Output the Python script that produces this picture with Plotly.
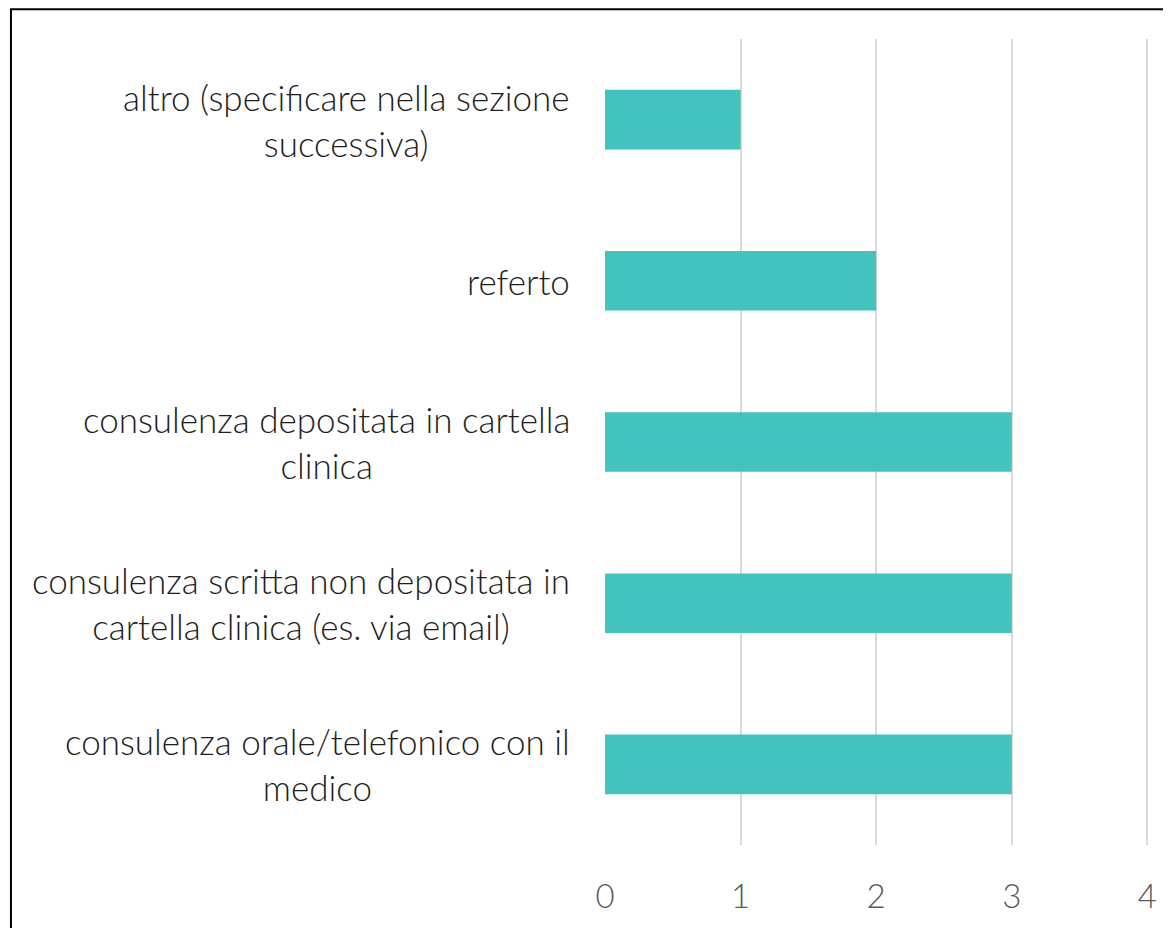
import plotly.graph_objects as go

categories = [
    "consulenza orale/telefonico con il<br>medico",
    "consulenza scritta non depositata in<br>cartella clinica (es. via email)",
    "consulenza depositata in cartella<br>clinica",
    "referto",
    "altro (specificare nella sezione<br>successiva)",
]
values = [3, 3, 3, 2, 1]
tick_vals = [0, 1, 2, 3, 4]

FONT = "Lato"
BAR_COLOR = "#43C2BE"

fig = go.Figure()
fig.add_trace(go.Bar(
    x=values, y=list(range(len(categories))), orientation="h",
    marker=dict(color=BAR_COLOR, line=dict(width=0)), width=0.37,
    hoverinfo="skip",
))

annotations = []
for i, c in enumerate(categories):
    annotations.append(dict(
        x=-0.0605, xref="paper", y=i, yref="y", text=c, showarrow=False,
        xanchor="right", yanchor="middle", align="center",
        font=dict(family=FONT, size=35, color="#1e1e1e", weight=300),
    ))

fig.update_layout(
    width=1163, height=920,
    margin=dict(l=597, r=21, t=31, b=83),
    paper_bgcolor="white", plot_bgcolor="white",
    showlegend=False,
    annotations=annotations,
    xaxis=dict(
        range=[0, 4.02], tickvals=tick_vals, showgrid=True, gridcolor="#D9D9D9", gridwidth=2,
        zeroline=False, showline=False,
        tickfont=dict(family=FONT, size=33, color="#595959", weight=300),
        ticks="outside", ticklen=22, tickcolor="rgba(0,0,0,0)",
    ),
    yaxis=dict(range=[-0.5, 4.5], showticklabels=False, showgrid=False, zeroline=False),
    shapes=[dict(type="path", xref="paper", yref="paper",
                 path="M -1.09,-0.2 L -1.09,1.037 L 1.2,1.037",
                 line=dict(color="black", width=2), layer="above")],
)
fig.write_html("out.html")
